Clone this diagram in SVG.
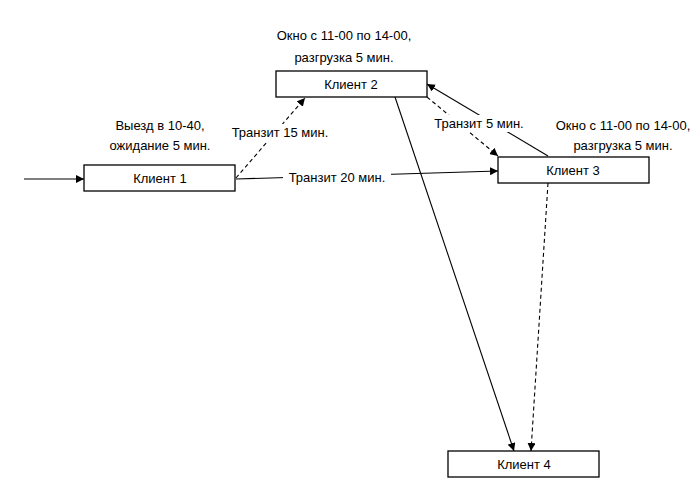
<svg xmlns="http://www.w3.org/2000/svg" width="700" height="503" viewBox="0 0 700 503">
<style>
.box{fill:#fff;stroke:#000;stroke-width:1.3}
text{font-family:"Liberation Sans",Arial,sans-serif;font-size:13px;fill:#000;text-anchor:middle}
.ln{stroke:#000;stroke-width:1.1;fill:none}
.dash{stroke-dasharray:4,3}
.bg{fill:#fff}
</style>
<defs>
<marker id="ah" viewBox="0 0 10 10" refX="10" refY="5" markerWidth="8" markerHeight="8" markerUnits="userSpaceOnUse" orient="auto">
<path d="M0,0 L10,5 L0,10 z" fill="#000"/>
</marker>
</defs>
<rect width="700" height="503" fill="#fff"/>
<g id="connectors">
<line class="ln" x1="24" y1="179" x2="84" y2="179" marker-end="url(#ah)"/>
<line class="ln dash" x1="236" y1="178" x2="305" y2="98" marker-end="url(#ah)"/>
<line class="ln" x1="236" y1="179" x2="498" y2="171" marker-end="url(#ah)"/>
<line class="ln" x1="548" y1="156" x2="427" y2="84" marker-end="url(#ah)"/>
<line class="ln dash" x1="427" y1="97" x2="498" y2="156" marker-end="url(#ah)"/>
<line class="ln" x1="395" y1="97" x2="514" y2="451" marker-end="url(#ah)"/>
<line class="ln dash" x1="548" y1="183" x2="531" y2="451" marker-end="url(#ah)"/>
<rect class="bg" x="228" y="124" width="104" height="17"/>
<text x="280" y="137">Транзит 15 мин.</text>
<rect class="bg" x="283" y="169" width="108" height="17"/>
<text x="337" y="182">Транзит 20 мин.</text>
<rect class="bg" x="430" y="115" width="98" height="17"/>
<text x="479" y="128">Транзит 5 мин.</text>
</g>
<g id="client1">
<rect class="box" x="84" y="165" width="151" height="26"/>
<text x="160" y="183">Клиент 1</text>
<text x="160" y="130">Выезд в 10-40,</text>
<text x="160" y="150">ожидание 5 мин.</text>
</g>
<g id="client2">
<rect class="box" x="276" y="71" width="151" height="26"/>
<text x="351" y="89">Клиент 2</text>
<text x="344" y="40">Окно с 11-00 по 14-00,</text>
<text x="344" y="62">разгрузка 5 мин.</text>
</g>
<g id="client3">
<rect class="box" x="498" y="157" width="151" height="26"/>
<text x="573" y="175">Клиент 3</text>
<text x="623" y="130">Окно с 11-00 по 14-00,</text>
<text x="623" y="150">разгрузка 5 мин.</text>
</g>
<g id="client4">
<rect class="box" x="448" y="451" width="151" height="26"/>
<text x="524" y="469">Клиент 4</text>
</g>
</svg>
